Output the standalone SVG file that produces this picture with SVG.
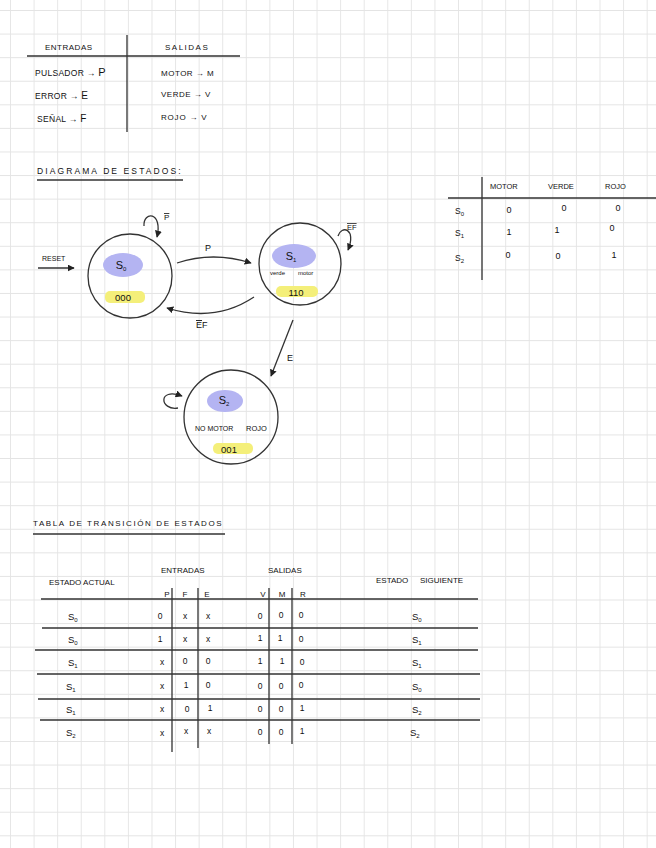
<svg xmlns="http://www.w3.org/2000/svg" width="656" height="848" viewBox="0 0 656 848" font-size="8">
<style>
.t{font-family:"Liberation Sans",sans-serif;fill:#111}
.s{font-size:6px}
.ln{stroke:#333;stroke-width:1.3;fill:none}
.st{fill:none;stroke:#333;stroke-width:1.3}
.blob{fill:#b4b4f2}
.hl{fill:#f4ef7a}
.ol{text-decoration:overline}
.c{text-anchor:middle}
</style>
<defs>
<pattern id="grid" x="10" y="10" width="23.58" height="23.58" patternUnits="userSpaceOnUse">
<path d="M0 0 H23.58 M0 0 V23.58" stroke="#e4e4e4" stroke-width="1.8" fill="none"/>
</pattern>
<marker id="ah" viewBox="0 0 10 10" refX="9" refY="5" markerWidth="7" markerHeight="7" orient="auto" markerUnits="userSpaceOnUse">
<path d="M0 0 L10 5 L0 10 Z" fill="#222"/>
</marker>
</defs>
<rect width="656" height="848" fill="#fff"/>
<rect width="656" height="848" fill="url(#grid)"/>

<!-- Top table -->
<g id="io-table">
<path class="ln" d="M27 56 H240 M127 35 V132"/>
<text class="t" x="45" y="50" font-size="8" letter-spacing="0.5">ENTRADAS</text>
<text class="t" x="165" y="50" font-size="8" letter-spacing="1.5">SALIDAS</text>
<text class="t" x="35" y="76" font-size="8.5" letter-spacing="0.3">PULSADOR → <tspan font-size="11">P</tspan></text>
<text class="t" x="35" y="99" font-size="8.5" letter-spacing="0.3">ERROR  → <tspan font-size="10">E</tspan></text>
<text class="t" x="37" y="122" font-size="8.5" letter-spacing="0.3">SEÑAL  → <tspan font-size="10">F</tspan></text>
<text class="t" x="161" y="76" font-size="8" letter-spacing="0.5">MOTOR → M</text>
<text class="t" x="161" y="97" font-size="8" letter-spacing="0.5">VERDE → V</text>
<text class="t" x="161" y="120" font-size="8" letter-spacing="0.8">ROJO → V</text>
</g>

<!-- Diagram title -->
<text class="t" x="37" y="174" font-size="8.5" letter-spacing="2.1">DIAGRAMA DE ESTADOS:</text>
<path class="ln" d="M37 180 H183"/>

<!-- Nodes -->
<g id="S0">
<circle class="st" cx="130" cy="276" r="42"/>
<ellipse class="blob" cx="123" cy="265" rx="20" ry="12"/>
<text class="t c" x="121" y="269" font-size="11">S<tspan class="s" dy="2">0</tspan></text>
<rect class="hl" x="105" y="291" width="40" height="12" rx="5"/>
<text class="t c" x="123" y="300.5" font-size="9.5">000</text>
</g>
<g id="S1">
<circle class="st" cx="300" cy="264" r="41"/>
<ellipse class="blob" cx="294" cy="256" rx="22" ry="12"/>
<text class="t c" x="291" y="260" font-size="11">S<tspan class="s" dy="2">1</tspan></text>
<text class="t" x="270" y="275" font-size="6">verde</text>
<text class="t" x="298" y="275" font-size="6">motor</text>
<rect class="hl" x="276" y="286" width="42" height="11" rx="5"/>
<text class="t c" x="296" y="295.5" font-size="9.5">110</text>
</g>
<g id="S2">
<circle class="st" cx="231" cy="417" r="47"/>
<ellipse class="blob" cx="225" cy="401" rx="18" ry="11"/>
<text class="t c" x="224" y="404" font-size="11">S<tspan class="s" dy="2">2</tspan></text>
<text class="t" x="195" y="431" font-size="7">NO MOTOR</text>
<text class="t" x="246" y="431" font-size="7.5">ROJO</text>
<rect class="hl" x="213" y="443" width="40" height="11" rx="5"/>
<text class="t c" x="229" y="452.5" font-size="9.5">001</text>
</g>

<!-- Connectors -->
<g id="connectors">
<path class="ln" d="M38 268 H74" marker-end="url(#ah)"/>
<path class="ln" d="M144 226 C143 211, 163 211, 157 237" marker-end="url(#ah)"/>
<path class="ln" d="M177 263 Q213 251 251 263" marker-end="url(#ah)"/>
<path class="ln" d="M254 297 Q215 323 167 308" marker-end="url(#ah)"/>
<path class="ln" d="M338 236 C341 225, 357 228, 348 250" marker-end="url(#ah)"/>
<path class="ln" d="M293 320 L271 376" marker-end="url(#ah)"/>
<path class="ln" d="M178 408 C160 411, 157 387, 182 396" marker-end="url(#ah)"/>
<text class="t" x="42" y="261" font-size="7">RESET</text>
<text class="t ol" x="164" y="220" font-size="8">P</text>
<text class="t" x="205" y="251" font-size="9">P</text>
<text class="t" x="196" y="328" font-size="9"><tspan class="ol">E</tspan>F</text>
<text class="t ol" x="347" y="230" font-size="7.5">EF</text>
<text class="t" x="287" y="361" font-size="9">E</text>
</g>

<!-- Output table -->
<g id="output-table">
<path class="ln" d="M482 177 V280 M448 198 H656"/>
<text class="t" x="490" y="189" font-size="7.5">MOTOR</text>
<text class="t" x="548" y="189" font-size="7.5">VERDE</text>
<text class="t" x="605" y="189" font-size="7.5">ROJO</text>
<text class="t" x="455" y="214" font-size="8.5">S<tspan class="s" dy="1.5">0</tspan></text>
<text class="t" x="455" y="236" font-size="8.5">S<tspan class="s" dy="1.5">1</tspan></text>
<text class="t" x="455" y="261" font-size="8.5">S<tspan class="s" dy="1.5">2</tspan></text>
<g class="t c" font-size="9">
<text x="509" y="213">0</text><text x="564" y="211">0</text><text x="618" y="211">0</text>
<text x="509" y="235">1</text><text x="557" y="233">1</text><text x="612" y="231">0</text>
<text x="508" y="258">0</text><text x="558" y="259">0</text><text x="614" y="258">1</text>
</g>
</g>

<!-- Transition table -->
<g id="transition-table">
<text class="t" x="33" y="526" font-size="8" letter-spacing="1.6">TABLA DE TRANSICIÓN DE ESTADOS</text>
<path class="ln" d="M33 534 H225"/>
<text class="t" x="161" y="573" font-size="8">ENTRADAS</text>
<text class="t" x="268" y="573" font-size="8">SALIDAS</text>
<text class="t" x="49" y="585" font-size="8">ESTADO ACTUAL</text>
<text class="t" x="376" y="583" font-size="8">ESTADO</text>
<text class="t" x="420" y="583" font-size="8">SIGUIENTE</text>
<g class="t c" font-size="8">
<text x="167" y="597">P</text><text x="185" y="597">F</text><text x="207" y="597">E</text>
<text x="263" y="597">V</text><text x="282" y="597">M</text><text x="303" y="597">R</text>
</g>
<path class="ln" d="M41 599 H478 M42 628 H478 M35 650 H478 M37 674 H480 M38 699 H480 M40 720 H480"/>
<path class="ln" d="M172 588 V752 M198 588 V748 M269 588 V744 M292 588 V744"/>
<g class="t" font-size="9.5">
<text x="68" y="620">S<tspan class="s" dy="1.5">0</tspan></text>
<text x="68" y="643">S<tspan class="s" dy="1.5">0</tspan></text>
<text x="68" y="666">S<tspan class="s" dy="1.5">1</tspan></text>
<text x="66" y="690">S<tspan class="s" dy="1.5">1</tspan></text>
<text x="66" y="713">S<tspan class="s" dy="1.5">1</tspan></text>
<text x="66" y="736">S<tspan class="s" dy="1.5">2</tspan></text>
<text x="412" y="620">S<tspan class="s" dy="1.5">0</tspan></text>
<text x="412" y="643">S<tspan class="s" dy="1.5">1</tspan></text>
<text x="412" y="666">S<tspan class="s" dy="1.5">1</tspan></text>
<text x="412" y="690">S<tspan class="s" dy="1.5">0</tspan></text>
<text x="412" y="713">S<tspan class="s" dy="1.5">2</tspan></text>
<text x="410" y="736">S<tspan class="s" dy="1.5">2</tspan></text>
</g>
<g class="t c" font-size="8.5">
<text x="160" y="619">0</text><text x="185" y="619">x</text><text x="208" y="619">x</text>
<text x="260" y="619">0</text><text x="281" y="618">0</text><text x="301" y="618">0</text>
<text x="160" y="642">1</text><text x="185" y="642">x</text><text x="208" y="642">x</text>
<text x="260" y="641">1</text><text x="280" y="641">1</text><text x="301" y="642">0</text>
<text x="162" y="665">x</text><text x="185" y="664">0</text><text x="208" y="664">0</text>
<text x="260" y="664">1</text><text x="282" y="664">1</text><text x="302" y="665">0</text>
<text x="162" y="689">x</text><text x="186" y="688">1</text><text x="208" y="688">0</text>
<text x="260" y="689">0</text><text x="281" y="689">0</text><text x="301" y="688">0</text>
<text x="162" y="712">x</text><text x="187" y="712">0</text><text x="210" y="711">1</text>
<text x="260" y="712">0</text><text x="281" y="712">0</text><text x="302" y="711">1</text>
<text x="162" y="736">x</text><text x="186" y="734">x</text><text x="209" y="734">x</text>
<text x="260" y="735">0</text><text x="281" y="735">0</text><text x="302" y="734">1</text>
</g>
</g>
</svg>
